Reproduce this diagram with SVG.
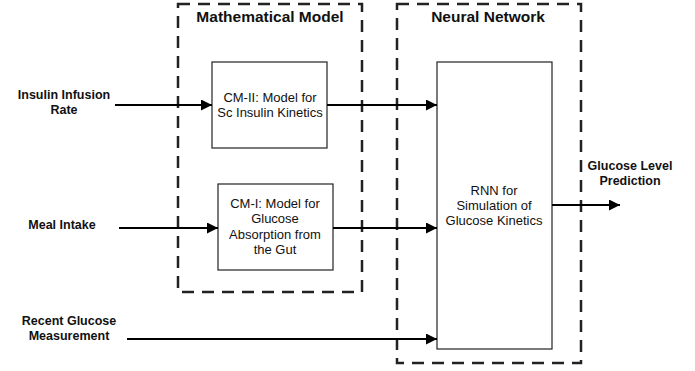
<svg xmlns="http://www.w3.org/2000/svg" width="695" height="371" viewBox="0 0 695 371">
<defs>
<marker id="ah" viewBox="0 0 10 10" refX="10" refY="5" markerWidth="11" markerHeight="11" markerUnits="userSpaceOnUse" orient="auto">
<path d="M0,0 L10,5 L0,10 z" fill="#000"/>
</marker>
<style>
.grp{fill:none;stroke:#222;stroke-width:2.5;stroke-dasharray:12 8}
.box{fill:#fff;stroke:#222;stroke-width:1.2}
.lbl{font-family:"Liberation Sans",Arial,sans-serif;font-size:12.5px;font-weight:bold;fill:#111;text-anchor:middle}
.ttl{font-family:"Liberation Sans",Arial,sans-serif;font-size:15.5px;font-weight:bold;fill:#111;text-anchor:middle}
.txt{font-family:"Liberation Sans",Arial,sans-serif;font-size:13px;fill:#111;text-anchor:middle}
.con{fill:none;stroke:#000;stroke-width:2;marker-end:url(#ah)}
</style>
</defs>
<rect width="695" height="371" fill="#fff"/>
<g id="math-model">
<rect class="grp" x="178" y="4" width="184" height="288"/>
<text class="ttl" x="270" y="22">Mathematical Model</text>
</g>
<g id="neural-network">
<rect class="grp" x="397" y="4" width="184" height="359"/>
<text class="ttl" x="488" y="22">Neural Network</text>
</g>
<g id="cm2">
<rect class="box" x="212" y="62" width="115" height="86"/>
<text class="txt" x="270" y="102">CM-II: Model for</text>
<text class="txt" x="270" y="117">Sc Insulin Kinetics</text>
</g>
<g id="cm1">
<rect class="box" x="218" y="184" width="115" height="86"/>
<text class="txt" x="275" y="208">CM-I: Model for</text>
<text class="txt" x="275" y="223">Glucose</text>
<text class="txt" x="275" y="239">Absorption from</text>
<text class="txt" x="275" y="254">the Gut</text>
</g>
<g id="rnn">
<rect class="box" x="437" y="62" width="115" height="287"/>
<text class="txt" x="494" y="195">RNN for</text>
<text class="txt" x="494" y="210">Simulation of</text>
<text class="txt" x="494" y="225">Glucose Kinetics</text>
</g>
<g id="insulin">
<text class="lbl" x="64" y="99">Insulin Infusion</text>
<text class="lbl" x="64" y="114">Rate</text>
</g>
<g id="meal">
<text class="lbl" x="62" y="229">Meal Intake</text>
</g>
<g id="recent">
<text class="lbl" x="69" y="325">Recent Glucose</text>
<text class="lbl" x="69" y="340">Measurement</text>
</g>
<g id="output">
<text class="lbl" x="630" y="170">Glucose Level</text>
<text class="lbl" x="630" y="185">Prediction</text>
</g>
<g id="connectors">
<line class="con" x1="115" y1="105" x2="212" y2="105"/>
<line class="con" x1="327" y1="105" x2="437" y2="105"/>
<line class="con" x1="119" y1="228" x2="218" y2="228"/>
<line class="con" x1="333" y1="228" x2="437" y2="228"/>
<line class="con" x1="127" y1="339" x2="437" y2="339"/>
<line class="con" x1="552" y1="205" x2="620" y2="205"/>
</g>
</svg>
